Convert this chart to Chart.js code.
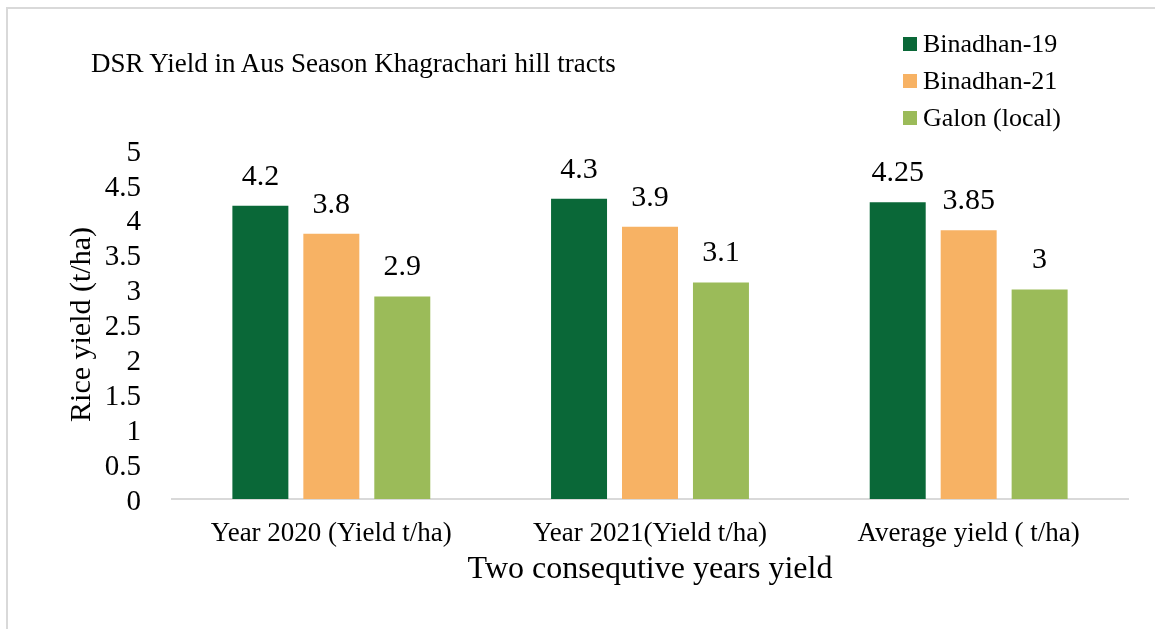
<!DOCTYPE html>
<html>
<head>
<meta charset="utf-8">
<title>DSR Yield in Aus Season</title>
<script src="https://cdn.jsdelivr.net/npm/chart.js@4.4.1/dist/chart.umd.min.js"></script>
<style>
    html, body {
        margin: 0;
        padding: 0;
        background: #fff;
    }
    #wrap {
        position: relative;
        width: 1155px;
        height: 629px;
        overflow: hidden;
        font-family: "Liberation Serif", "Times New Roman", serif;
        color: #000;
    }
    #frame {
        position: absolute;
        left: 6px;
        top: 7px;
        width: 1300px;
        height: 800px;
        border-top: 2px solid #d9d9d9;
        border-left: 2px solid #d9d9d9;
        pointer-events: none;
    }
    #chartTitle {
        position: absolute;
        left: 91px;
        top: 47px;
        font-size: 27px;
        line-height: 32px;
        white-space: nowrap;
    }
    #legend {
        position: absolute;
        left: 903px;
        top: 25px;
    }
    .legend-item {
        display: flex;
        align-items: center;
        height: 37px;
        font-size: 26px;
        white-space: nowrap;
    }
    .legend-box {
        width: 14px;
        height: 14px;
        margin-right: 6px;
    }
    canvas {
        position: absolute;
        left: 0;
        top: 0;
    }
</style>
</head>
<body>
<div id="wrap">
    <canvas id="yieldChart" width="1155" height="629"></canvas>
    <div id="frame"></div>
    <div id="chartTitle"></div>
    <div id="legend"></div>
</div>
<script>
// Chart data
const chartTitle = "DSR Yield in Aus Season Khagrachari hill tracts";
const categories = ["Year 2020 (Yield t/ha)", "Year 2021(Yield t/ha)", "Average yield ( t/ha)"];
const seriesNames = ["Binadhan-19", "Binadhan-21", "Galon (local)"];
const binadhan19 = [4.2, 4.3, 4.25];
const binadhan21 = [3.8, 3.9, 3.85];
const galonLocal = [2.9, 3.1, 3];
const seriesColors = ["#0a6838", "#f7b264", "#9bbb59"];
const yTicks = [0, 0.5, 1, 1.5, 2, 2.5, 3, 3.5, 4, 4.5, 5];
const xAxisTitle = "Two consequtive years yield";
const yAxisTitle = "Rice yield (t/ha)";

const serif = "'Liberation Serif', 'Times New Roman', serif";

// Title and legend as plain text
document.getElementById("chartTitle").textContent = chartTitle;
const legendEl = document.getElementById("legend");
seriesNames.forEach((name, i) => {
    const item = document.createElement("div");
    item.className = "legend-item";
    const box = document.createElement("span");
    box.className = "legend-box";
    box.style.background = seriesColors[i];
    const label = document.createElement("span");
    label.textContent = name;
    item.appendChild(box);
    item.appendChild(label);
    legendEl.appendChild(item);
});

// Value labels above the bars
const valueLabels = {
    id: "valueLabels",
    afterDatasetsDraw(chart) {
        const ctx = chart.ctx;
        ctx.save();
        ctx.font = "30px " + serif;
        ctx.fillStyle = "#000";
        ctx.textAlign = "center";
        ctx.textBaseline = "middle";
        chart.data.datasets.forEach((ds, i) => {
            chart.getDatasetMeta(i).data.forEach((bar, j) => {
                ctx.fillText(String(ds.data[j]), bar.x, bar.y - 29);
            });
        });
        ctx.restore();
    }
};

const datasetValues = [binadhan19, binadhan21, galonLocal];

new Chart(document.getElementById("yieldChart"), {
    type: "bar",
    data: {
        labels: categories,
        datasets: seriesNames.map((name, i) => ({
            label: name,
            data: datasetValues[i],
            backgroundColor: seriesColors[i],
            borderWidth: 0,
            categoryPercentage: 0.668,
            barPercentage: 0.789
        }))
    },
    options: {
        responsive: false,
        animation: false,
        events: [],
        layout: {
            padding: { top: 150, right: 27, bottom: 0, left: 0 }
        },
        plugins: {
            legend: { display: false },
            title: { display: false },
            tooltip: { enabled: false }
        },
        scales: {
            x: {
                grid: { display: false, drawTicks: false },
                border: { display: true, color: "#d9d9d9", width: 2 },
                ticks: {
                    color: "#000",
                    font: { family: serif, size: 27 },
                    padding: 19,
                    maxRotation: 0,
                    autoSkip: false
                },
                title: {
                    display: true,
                    text: xAxisTitle,
                    color: "#000",
                    font: { family: serif, size: 32 },
                    padding: { top: 0, bottom: 40 }
                },
                afterFit(scale) {
                    scale.height = 130;
                }
            },
            y: {
                min: 0,
                max: 5,
                afterBuildTicks(scale) {
                    scale.ticks = yTicks.map(v => ({ value: v }));
                },
                grid: { display: false, drawTicks: false },
                border: { display: false },
                ticks: {
                    color: "#000",
                    font: { family: serif, size: 29 },
                    padding: 31,
                    labelOffset: 3,
                    autoSkip: false,
                    callback: (value) => String(value)
                },
                title: {
                    display: true,
                    text: yAxisTitle,
                    color: "#000",
                    font: { family: serif, size: 30 },
                    padding: { top: 64, bottom: 0 }
                },
                afterFit(scale) {
                    scale.width = 172;
                }
            }
        }
    },
    plugins: [valueLabels]
});
</script>
</body>
</html>
